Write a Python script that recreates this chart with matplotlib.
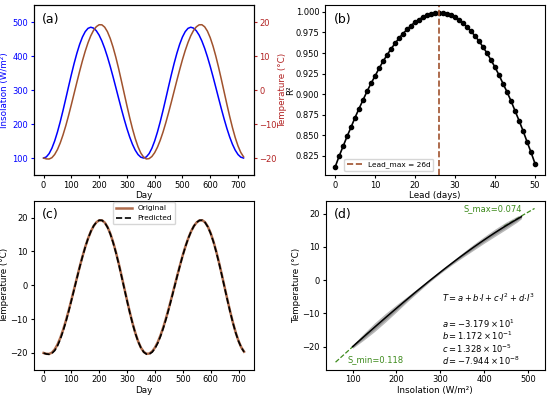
"""insolation / temperature lag analysis, four panels"""
import numpy as np
from matplotlib import pyplot as plt

# daily series, sampled every 10 days
days = list(range(0, 721, 10))
insolation = [100.0, 103.3, 113.0, 128.8, 150.2, 176.5, 206.7, 239.8, 274.7, 310.3,
              345.2, 378.3, 408.5, 434.8, 456.2, 472.0, 481.7, 485.0, 482.4, 474.6,
              461.8, 444.4, 422.9, 397.8, 369.8, 339.8, 308.4, 276.6, 245.2, 215.2,
              187.2, 162.1, 140.6, 123.2, 110.4, 102.6, 100.0,
              103.3, 113.0, 128.8, 150.2, 176.5, 206.7, 239.8, 274.7, 310.3, 345.2,
              378.3, 408.5, 434.8, 456.2, 472.0, 481.7, 485.0,
              482.4, 474.6, 461.8, 444.4, 422.9, 397.8, 369.8, 339.8, 308.4, 276.6,
              245.2, 215.2, 187.2, 162.1, 140.6, 123.2, 110.4, 102.6, 100.0]
temperature = [-20.00, -20.25, -20.29, -19.90, -18.96, -17.51, -15.57, -13.21, -10.51, -7.50,
               -4.30, -1.00, 2.31, 5.56, 8.63, 11.44, 13.92, 15.98, 17.58, 18.67,
               19.23, 19.21, 18.53, 17.18, 15.21, 12.69, 9.73, 6.41, 2.81, -0.87,
               -4.54, -8.08, -11.34, -14.24, -16.65, -18.51, -19.71, -20.27, -20.17, -19.55,
               -18.42, -16.82, -14.78, -12.38, -9.64, -6.67, -3.55, -0.34, 2.87, 5.98,
               8.95, 11.64, 14.01, 16.00, 17.55, 18.62, 19.20, 19.24, 18.63, 17.34,
               15.43, 12.97, 10.03, 6.73, 3.18, -0.50, -4.18, -7.73, -11.03, -13.97,
               -16.43, -18.34, -19.63]
predicted = [-20.05, -20.30, -20.40, -20.10, -19.30, -17.90, -15.95, -13.55, -10.80, -7.75,
             -4.50, -1.15, 2.20, 5.45, 8.55, 11.40, 13.90, 15.98, 17.60, 18.70,
             19.25, 19.20, 18.50, 17.10, 15.10, 12.55, 9.58, 6.25, 2.65, -1.02,
             -4.68, -8.20, -11.45, -14.33, -16.72, -18.57, -19.78, -20.35, -20.30, -19.75,
             -18.65, -17.10, -15.05, -12.65, -9.90, -6.90, -3.75, -0.50, 2.75, 5.88,
             8.88, 11.58, 13.98, 15.98, 17.55, 18.64, 19.22, 19.22, 18.58, 17.26,
             15.32, 12.84, 9.88, 6.57, 3.02, -0.65, -4.32, -7.85, -11.13, -14.05,
             -16.50, -18.40, -19.70]

# R^2 against lead
lead_days = list(range(51))
r2 = [0.8110, 0.8243, 0.8364, 0.8485, 0.8598, 0.8715, 0.8824, 0.8929, 0.9034, 0.9131,
      0.9220, 0.9313, 0.9398, 0.9475, 0.9551, 0.9616, 0.9681, 0.9737, 0.9786, 0.9834,
      0.9875, 0.9907, 0.9939, 0.9960, 0.9976, 0.9984, 0.9988, 0.9984, 0.9975, 0.9957,
      0.9933, 0.9898, 0.9862, 0.9816, 0.9763, 0.9707, 0.9644, 0.9572, 0.9498, 0.9413,
      0.9326, 0.9231, 0.9127, 0.9026, 0.8916, 0.8797, 0.8678, 0.8554, 0.8421, 0.8292,
      0.8154]
lead_max = 26

# cubic fit T = a + b*I + c*I^2 + d*I^3
coef = [-3.179e1, 1.172e-1, 1.328e-5, -7.944e-8]
# spread of the lagged data around the fit (half width, deg C)
band_I = [100, 125, 150, 175, 200, 225, 250, 275, 300, 325, 350, 375, 400, 425, 450, 475, 485]
band_w = [0.5, 1.0, 1.3, 1.3, 1.1, 0.8, 0.6, 0.4, 0.4, 0.5, 0.7, 0.9, 1.0, 1.1, 1.1, 0.9, 0.6]
# tangent segments at both ends (slopes S_min, S_max)
smin_x, smin_y = [61, 140], [-24.7, -15.3]
smax_x, smax_y = [445, 515], [16.3, 21.6]
s_max, s_min = 0.074, 0.118

plt.rcParams['font.size'] = 6
plt.rcParams['xtick.major.size'] = 2.5
plt.rcParams['ytick.major.size'] = 2.5
plt.rcParams['xtick.major.pad'] = 1.5
plt.rcParams['ytick.major.pad'] = 1.5
fs_lab = 6.3
fs_panel = 9
green = '#3d8a1c'

fig = plt.figure(figsize=(5.5, 3.96), dpi=100)
axA = fig.add_axes([0.061, 0.558, 0.400, 0.429])
axB = fig.add_axes([0.591, 0.558, 0.400, 0.429])
axC = fig.add_axes([0.061, 0.066, 0.401, 0.427])
axD = fig.add_axes([0.592, 0.066, 0.398, 0.427])

# (a) insolation and temperature
axA.plot(days, insolation, color='blue', lw=1.1)
axA.set_ylim(50, 550)
axA.set_xlabel('Day', fontsize=fs_lab, labelpad=1)
axA.set_ylabel('Insolation (W/m²)', color='blue', fontsize=fs_lab, labelpad=2)
axA.tick_params(axis='y', colors='blue')
axA2 = axA.twinx()
axA2.plot(days, temperature, color='sienna', lw=1.1)
axA2.set_ylim(-25, 25)
axA2.set_ylabel('Temperature (°C)', color='firebrick', fontsize=fs_lab, labelpad=1)
axA2.tick_params(axis='y', colors='firebrick')
axA.text(0.04, 0.955, '(a)', transform=axA.transAxes, fontsize=fs_panel, va='top')

# (b) R^2 vs lead
axB.plot(lead_days, r2, 'o-', color='black', ms=3, lw=1.2)
axB.axvline(lead_max, color='sienna', ls='--', lw=1.2, label=f'Lead_max = {lead_max}d')
axB.set_xlabel('Lead (days)', fontsize=fs_lab, labelpad=1)
axB.set_ylabel('R²', fontsize=fs_lab, labelpad=0.5)
axB.legend(loc='lower left', bbox_to_anchor=(0.07, 0.0), fontsize=5.3)
axB.text(0.04, 0.955, '(b)', transform=axB.transAxes, fontsize=fs_panel, va='top')

# (c) original vs predicted
axC.plot(days, temperature, color='sienna', lw=1.8, alpha=0.85, label='Original')
axC.plot(days, predicted, color='black', ls='--', lw=1.2, label='Predicted')
axC.set_ylim(-25, 25)
axC.set_xlabel('Day', fontsize=fs_lab, labelpad=1)
axC.set_ylabel('Temperature (°C)', fontsize=fs_lab, labelpad=1)
axC.legend(loc='upper center', fontsize=5.3, handlelength=2.2, borderaxespad=0.2)
axC.text(0.04, 0.955, '(c)', transform=axC.transAxes, fontsize=fs_panel, va='top')

# (d) temperature vs lagged insolation
axD.plot(smin_x, smin_y, color=green, ls='--', lw=0.9, zorder=1)
axD.plot(smax_x, smax_y, color=green, ls='--', lw=0.9, zorder=1)
bandT = np.polyval(coef[::-1], band_I)
band_w = np.array(band_w)
axD.fill_between(band_I, bandT - band_w, bandT + band_w, color='grey', alpha=0.55, lw=0,
                 zorder=2)
axD.fill_between(band_I, bandT - 0.5 * band_w, bandT + 0.5 * band_w, color='dimgrey',
                 alpha=0.45, lw=0, zorder=2)
fitI = np.sort(np.unique(insolation))
fitT = np.polyval(coef[::-1], fitI)
axD.plot(fitI, fitT, color='black', lw=1.1, zorder=3)
axD.text(487, 21.6, f'S_max={s_max}', color=green, ha='right', va='center', fontsize=6,
         bbox=dict(facecolor='white', alpha=0.7, edgecolor='none', pad=0.5))
axD.text(88, -23.8, f'S_min={s_min}', color=green, ha='left', va='center', fontsize=6,
         bbox=dict(facecolor='white', alpha=0.7, edgecolor='none', pad=0.5))
axD.text(304, -5.4, r'$T = a + b{\cdot}I + c{\cdot}I^2 + d{\cdot}I^3$', fontsize=6, va='center')
coef_txt = '\n'.join([r'$a = -3.179 \times 10^{1}$', r'$b = 1.172 \times 10^{-1}$',
                      r'$c = 1.328 \times 10^{-5}$', r'$d = -7.944 \times 10^{-8}$'])
axD.text(304, -11.3, coef_txt, fontsize=6, va='top', linespacing=1.0)
axD.set_xticks([100, 200, 300, 400, 500])
axD.set_yticks([-20, -10, 0, 10, 20])
axD.set_xlabel('Insolation (W/m²)', fontsize=fs_lab, labelpad=1)
axD.set_ylabel('Temperature (°C)', fontsize=fs_lab, labelpad=1)
axD.text(0.04, 0.955, '(d)', transform=axD.transAxes, fontsize=fs_panel, va='top')

plt.savefig('out.png')
